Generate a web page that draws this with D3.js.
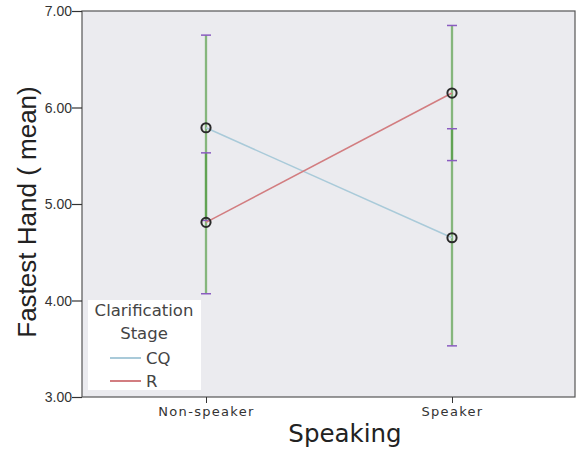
<!DOCTYPE html>
<html><head><meta charset="utf-8">
<script src="https://cdn.jsdelivr.net/npm/d3@7"></script>
<style>body{margin:0;background:#fff}</style>
</head><body><svg id="c" width="577" height="449"></svg>
<script>
const categories = ["Non-speaker", "Speaker"];
const seriesNames = ["CQ", "R"];
const cqMeans = [5.79, 4.65];
const rMeans = [4.81, 6.15];
const cqLower = [4.83, 3.53];
const cqUpper = [6.75, 5.78];
const rLower = [4.07, 5.45];
const rUpper = [5.53, 6.85];
const yTicks = [3, 4, 5, 6, 7];

const svg = d3.select("#c");
const L = 82, T = 11, R = 575, B = 397;
const x = d3.scalePoint().domain(categories).range([206, 452]).padding(0);
const y = d3.scaleLinear().domain([3, 7]).range([B, T]);

svg.append("rect").attr("x", L).attr("y", T).attr("width", R - L).attr("height", B - T)
  .attr("fill", "#ebebef").attr("stroke", "none");

const series = [
  {name: "CQ", means: cqMeans, lo: cqLower, hi: cqUpper, color: "#a9cad9"},
  {name: "R", means: rMeans, lo: rLower, hi: rUpper, color: "#d27d80"}
];

// error bars
series.forEach(s => {
  categories.forEach((c, i) => {
    svg.append("line").attr("x1", x(c)).attr("x2", x(c))
      .attr("y1", y(s.lo[i])).attr("y2", y(s.hi[i]))
      .attr("stroke", "#4f9a3e").attr("stroke-opacity", 0.65).attr("stroke-width", 2.3);
  });
});
series.forEach(s => {
  categories.forEach((c, i) => {
    [s.lo[i], s.hi[i]].forEach(v => {
      svg.append("line").attr("x1", x(c) - 5).attr("x2", x(c) + 5)
        .attr("y1", y(v)).attr("y2", y(v))
        .attr("stroke", "#8a5cc0").attr("stroke-width", 1.5);
    });
  });
});

// lines
const line = d3.line().x((d, i) => x(categories[i])).y(d => y(d));
series.forEach(s => {
  svg.append("path").datum(s.means).attr("d", line).attr("fill", "none")
    .attr("stroke", s.color).attr("stroke-width", 1.5);
});
series.forEach(s => {
  s.means.forEach((v, i) => {
    svg.append("circle").attr("cx", x(categories[i])).attr("cy", y(v)).attr("r", 4.6)
      .attr("fill", "none").attr("stroke", "#2a2a2a").attr("stroke-width", 2);
  });
});

// frame
svg.append("rect").attr("x", L).attr("y", T).attr("width", R - L).attr("height", B - T)
  .attr("fill", "none").attr("stroke", "#555").attr("stroke-width", 1.2);

// y axis
const ya = svg.append("g").attr("transform", `translate(${L},0)`)
  .call(d3.axisLeft(y).tickValues(yTicks).tickFormat(d3.format(".2f")).tickSize(10).tickSizeOuter(0));
ya.select(".domain").remove();
ya.selectAll("line").attr("stroke", "#333").attr("stroke-width", 1.2);
ya.selectAll("text").attr("font-family", "Liberation Sans, Arial, sans-serif").attr("font-size", 14)
  .attr("fill", "#333").attr("x", -10).attr("dy", "0.35em");

// x axis
const xa = svg.append("g").attr("transform", `translate(0,${B})`)
  .call(d3.axisBottom(x).tickSize(6).tickSizeOuter(0));
xa.select(".domain").remove();
xa.selectAll("line").attr("stroke", "#333");
xa.selectAll("text").attr("font-family", "DejaVu Sans, sans-serif").attr("font-size", 13)
  .attr("fill", "#333").attr("letter-spacing", "1.3px").attr("y", 10).attr("dy", "0.71em");

// titles
svg.append("text").attr("x", 345).attr("y", 442).attr("text-anchor", "middle")
  .attr("font-family", "DejaVu Sans, sans-serif").attr("font-size", 24.5).attr("fill", "#222").text("Speaking");
svg.append("text").attr("transform", "translate(36,212) rotate(-90)").attr("text-anchor", "middle")
  .attr("font-family", "Liberation Sans, Arial, sans-serif").attr("font-size", 26).attr("fill", "#222")
  .text("Fastest Hand ( mean)");

// legend
const lg = svg.append("g");
lg.append("rect").attr("x", 88).attr("y", 300).attr("width", 113).attr("height", 90).attr("fill", "#fff");
lg.append("text").attr("x", 144).attr("y", 316).attr("text-anchor", "middle")
  .attr("font-family", "DejaVu Sans, sans-serif").attr("font-size", 16.5).attr("fill", "#444").text("Clarification");
lg.append("text").attr("x", 144).attr("y", 339).attr("text-anchor", "middle")
  .attr("font-family", "DejaVu Sans, sans-serif").attr("font-size", 16.5).attr("fill", "#444").text("Stage");
series.forEach((s, i) => {
  const yy = 358 + i * 23;
  lg.append("line").attr("x1", 110).attr("x2", 141).attr("y1", yy).attr("y2", yy)
    .attr("stroke", s.color).attr("stroke-width", 2);
  lg.append("text").attr("x", 146).attr("y", yy + 6).attr("font-family", "DejaVu Sans, sans-serif")
    .attr("font-size", 16.5).attr("fill", "#444").text(s.name);
});
</script></body></html>
